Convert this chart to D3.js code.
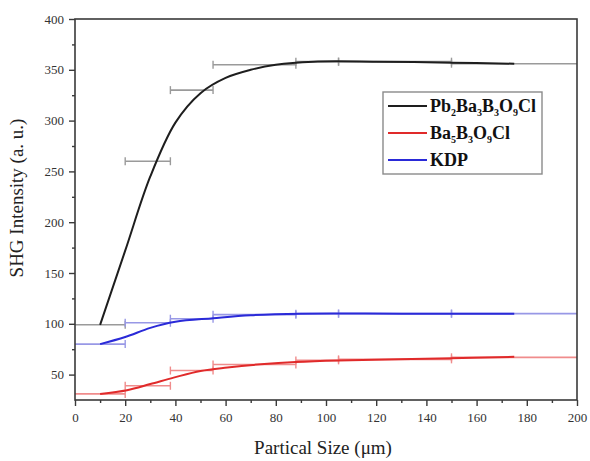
<!DOCTYPE html>
<html><head><meta charset="utf-8">
<script src="https://cdn.jsdelivr.net/npm/d3@7"></script>
<style>body{margin:0;background:#fff}svg{display:block}text{font-family:'Liberation Serif','Times New Roman',serif}</style>
</head><body><svg id="c" width="590" height="461"></svg>
<script>
// Particle size bins (µm): horizontal error bars
const binLo = [0, 20, 38, 55, 88, 105, 150];
const binHi = [20, 38, 55, 88, 105, 150, 200];
// SHG intensities (a. u.) measured per bin
const pbValues = [99, 260, 330, 355, 358, 358, 356];
const baValues = [31, 39, 54, 60, 64, 65, 67];
const kdpValues = [80, 101, 105, 109, 110, 110, 110];
// fitted curves (x in µm, y in a. u.)
const pbFitX = [10, 20, 30, 40, 50, 60, 70, 80, 95, 120, 150, 175];
const pbFitY = [99, 172, 245, 298, 327, 342, 350, 355, 358, 358, 357, 356];
const baFitX = [10, 20.7, 30, 39.3, 50, 60.7, 74, 88, 105, 150, 175];
const baFitY = [31, 34.7, 40.7, 47, 53.6, 57, 60.2, 62.5, 64, 66, 67.5];
const kdpFitX = [10, 20, 30, 40, 55, 70, 90, 130, 175];
const kdpFitY = [80, 87, 96, 102, 105.5, 108.5, 110, 110, 110];
const xTicks = [0, 20, 40, 60, 80, 100, 120, 140, 160, 180, 200];
const yTicks = [50, 100, 150, 200, 250, 300, 350, 400];

const series = [
  {name: [["Pb",0],["2",1],["Ba",0],["3",1],["B",0],["3",1],["O",0],["9",1],["Cl",0]], values: pbValues, fx: pbFitX, fy: pbFitY, color: "#1e1e1e", err: "#9a9a9a"},
  {name: [["Ba",0],["5",1],["B",0],["3",1],["O",0],["9",1],["Cl",0]], values: baValues, fx: baFitX, fy: baFitY, color: "#e02a2a", err: "#f08c8c"},
  {name: [["KDP",0]], values: kdpValues, fx: kdpFitX, fy: kdpFitY, color: "#2a2ad8", err: "#9898e6"}
];

const svg = d3.select("#c");
const L = 75, R = 577, T = 19, B = 400;
const x = d3.scaleLinear().domain([0, 200]).range([L, R]);
const y = d3.scaleLinear().domain([25, 400]).range([B, T]);
const font = "'Liberation Serif','Times New Roman',serif";

// error bars
series.forEach(s => {
  const g = svg.append("g");
  s.values.forEach((v, i) => {
    g.append("line").attr("x1", x(binLo[i])).attr("x2", x(binHi[i]))
      .attr("y1", y(v)).attr("y2", y(v)).attr("stroke", s.err).attr("stroke-width", 1.6);
    [binLo[i], binHi[i]].forEach(b => {
      if (b > 0 && b < 200)
        g.append("line").attr("x1", x(b)).attr("x2", x(b))
          .attr("y1", y(v) - 4).attr("y2", y(v) + 4).attr("stroke", s.err).attr("stroke-width", 1.4);
    });
  });
});
// fitted curves
series.forEach(s => {
  const line = d3.line().x((d, i) => x(s.fx[i])).y(d => y(d)).curve(d3.curveCatmullRom.alpha(0.5));
  svg.append("path").attr("d", line(s.fy)).attr("fill", "none")
    .attr("stroke", s.color).attr("stroke-width", 2);
});

// axes frame
const ax = svg.append("g");
ax.append("rect").attr("x", L).attr("y", T).attr("width", R - L).attr("height", B - T)
  .attr("fill", "none").attr("stroke", "#3a3a3a").attr("stroke-width", 1.6);
const xa = d3.axisBottom(x).tickValues(xTicks).tickSize(6).tickPadding(7);
const xm = d3.axisBottom(x).tickValues(d3.range(10, 200, 20)).tickSize(3).tickFormat("");
const ya = d3.axisLeft(y).tickValues(yTicks).tickSize(6).tickPadding(5);
const ym = d3.axisLeft(y).tickValues(d3.range(75, 400, 50)).tickSize(3).tickFormat("");
function style(g) {
  g.attr("font-family", font).attr("font-size", 13);
  g.select(".domain").remove();
  g.selectAll("line").attr("stroke", "#3a3a3a").attr("stroke-width", 1.4);
  g.selectAll("text").attr("fill", "#333");
}
svg.append("g").attr("transform", `translate(0,${B})`).call(xa).call(style);
svg.append("g").attr("transform", `translate(0,${B})`).call(xm).call(style);
svg.append("g").attr("transform", `translate(${L},0)`).call(ya).call(style);
svg.append("g").attr("transform", `translate(${L},0)`).call(ym).call(style);

// axis titles
svg.append("text").attr("x", 323).attr("y", 454).attr("text-anchor", "middle")
  .attr("font-family", font).attr("font-size", 19).attr("fill", "#222").text("Partical Size (μm)");
svg.append("text").attr("transform", "translate(23,198) rotate(-90)").attr("text-anchor", "middle")
  .attr("font-family", font).attr("font-size", 19).attr("fill", "#222").text("SHG Intensity (a. u.)");

// legend
const lg = svg.append("g");
lg.append("rect").attr("x", 383).attr("y", 92).attr("width", 159).attr("height", 82)
  .attr("fill", "#fff").attr("stroke", "#8a8a8a").attr("stroke-width", 1.4);
series.forEach((s, i) => {
  const cy = 106 + i * 27;
  lg.append("line").attr("x1", 388).attr("x2", 427).attr("y1", cy).attr("y2", cy)
    .attr("stroke", s.color).attr("stroke-width", 1.8);
  const t = lg.append("text").attr("x", 430).attr("y", cy + 6)
    .attr("font-family", font).attr("font-size", 18).attr("font-weight", "bold").attr("fill", "#111");
  s.name.forEach(([str, sub], j) => {
    const ts = t.append("tspan").text(str);
    if (sub) ts.attr("dy", 4).attr("font-size", 10);
    else if (j > 0) ts.attr("dy", -4);
  });
});
</script></body></html>
